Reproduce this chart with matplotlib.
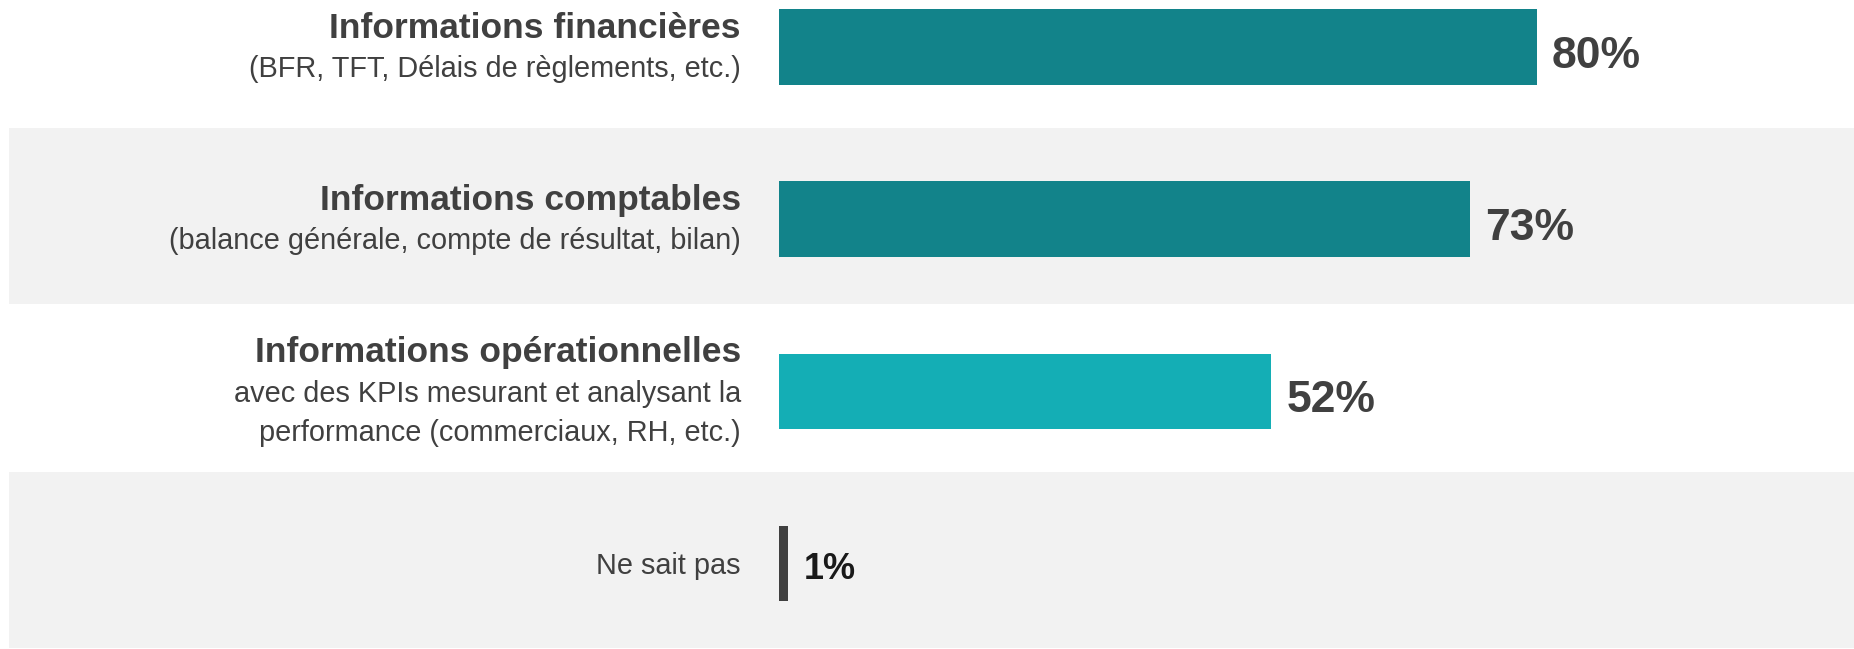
import matplotlib.pyplot as plt
from matplotlib import font_manager

titles = ["Informations financières", "Informations comptables",
          "Informations opérationnelles", ""]
subtitles = ["(BFR, TFT, Délais de règlements, etc.)",
             "(balance générale, compte de résultat, bilan)",
             "avec des KPIs mesurant et analysant la\nperformance (commerciaux, RH, etc.)",
             "Ne sait pas"]
values = [80, 73, 52, 1]
bar_colors = ["#12838a", "#12838a", "#14aeb5", "#404040"]

names = {f.name for f in font_manager.fontManager.ttflist}
narrow = "Liberation Sans Narrow" if "Liberation Sans Narrow" in names else "Liberation Sans"
plt.rcParams['font.family'] = [narrow, 'DejaVu Sans']

text_col = "#404040"

fig = plt.figure(figsize=(18.54, 6.49), dpi=100)
ax = fig.add_axes([0, 0, 1, 1])
ax.set_xlim(-82.2, 113.5)
ax.set_ylim(3.496, -0.273)
ax.axis('off')

# alternating grey bands
for i in range(len(values)):
    if i % 2 == 1:
        ax.axhspan(i - 0.53, i + 0.49, xmin=9 / 1854, xmax=1, color="#f2f2f2", lw=0, zorder=0)

ypos = list(range(len(values)))
ax.barh(ypos, values, height=0.44, color=bar_colors, zorder=2)

lab_x = -4.0
step = 0.23
for i, (t, s, v) in enumerate(zip(titles, subtitles, values)):
    lines = ([(t, 'bold')] if t else []) + [(l, 'normal') for l in s.split("\n")]
    n = len(lines)
    for k, (txt, w) in enumerate(lines):
        y = i + (k - (n - 1) / 2) * step + 0.06
        ax.text(lab_x, y, txt, ha='right', va='baseline', color=text_col,
                fontsize=25.5 if w == 'bold' else 20.8, fontweight=w)
    if v > 2:
        ax.text(v + 1.6, i + 0.12, f"{v}%", ha='left', va='baseline',
                fontsize=32, fontweight='bold', color=text_col)
    else:
        ax.text(v + 1.6, i + 0.09, f"{v}%", ha='left', va='baseline',
                fontsize=26, fontweight='bold', color="#1a1a1a")

fig.savefig("out.png", dpi=100)
